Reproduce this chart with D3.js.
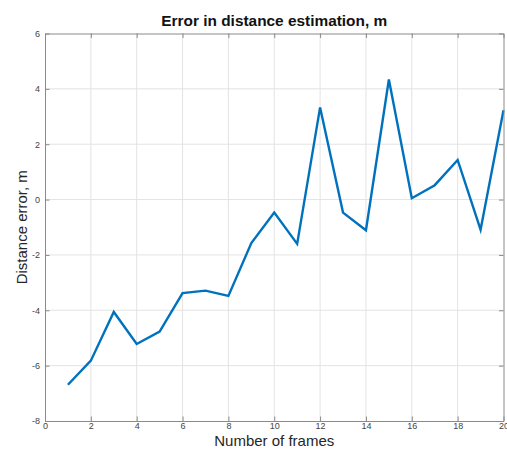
<!DOCTYPE html>
<html>
<head>
<meta charset="utf-8">
<script src="https://cdn.jsdelivr.net/npm/d3@7"></script>
<style>
  html, body { margin: 0; padding: 0; background: #fff; }
  svg { display: block; font-family: "Liberation Sans", Arial, Helvetica, sans-serif; }
</style>
</head>
<body>
<svg id="chart" width="507" height="450"></svg>
<script>
// Frame index and distance error (m) per frame
const frames = [1, 2, 3, 4, 5, 6, 7, 8, 9, 10, 11, 12, 13, 14, 15, 16, 17, 18, 19, 20];
const distanceError = [-6.69, -5.82, -4.06, -5.22, -4.77, -3.38, -3.29, -3.48, -1.57, -0.47,
                       -1.60, 3.33, -0.47, -1.11, 4.34, 0.05, 0.52, 1.43, -1.09, 3.23];
const xTicks = [0, 2, 4, 6, 8, 10, 12, 14, 16, 18, 20];
const yTicks = [-8, -6, -4, -2, 0, 2, 4, 6];

const titleText = "Error in distance estimation, m";
const xLabel = "Number of frames";
const yLabel = "Distance error, m";

const svg = d3.select("#chart");
const plotLeft = 45, plotRight = 503.5, plotTop = 33.5, plotBottom = 421;

const x = d3.scaleLinear().domain([0, 20]).range([plotLeft, plotRight]);
const y = d3.scaleLinear().domain([-8, 6]).range([plotBottom, plotTop]);

const axisColor = "#8a8a8a";
const gridColor = "#e3e3e3";
const tickLen = 4.5;
const plainNumber = d => String(d);   // hyphen-minus in tick labels

// grid
const grid = svg.append("g");
grid.selectAll("line.gx").data(xTicks.slice(1, -1)).join("line")
  .attr("x1", d => x(d)).attr("x2", d => x(d))
  .attr("y1", plotTop).attr("y2", plotBottom)
  .attr("stroke", gridColor).attr("stroke-width", 1);
grid.selectAll("line.gy").data(yTicks.slice(1, -1)).join("line")
  .attr("y1", d => y(d)).attr("y2", d => y(d))
  .attr("x1", plotLeft).attr("x2", plotRight)
  .attr("stroke", gridColor).attr("stroke-width", 1);

// data line
const line = d3.line().x((d, i) => x(frames[i])).y(d => y(d));
svg.append("path")
  .datum(distanceError)
  .attr("d", line)
  .attr("fill", "none")
  .attr("stroke", "#0072BD")
  .attr("stroke-width", 2.4)
  .attr("stroke-linejoin", "miter");

// axes with inward ticks on all four sides
function styleAxis(g) {
  g.select(".domain").attr("stroke", axisColor).attr("stroke-width", 1);
  g.selectAll(".tick line").attr("stroke", axisColor);
  g.selectAll(".tick text").attr("fill", "#444").attr("font-size", 9)
    .attr("font-family", "Liberation Sans, Arial, sans-serif");
}

const xBottom = svg.append("g").attr("transform", `translate(0,${plotBottom})`)
  .call(d3.axisBottom(x).tickValues(xTicks).tickFormat(plainNumber).tickSizeInner(-tickLen).tickSizeOuter(0).tickPadding(2));
styleAxis(xBottom);

const xTop = svg.append("g").attr("transform", `translate(0,${plotTop})`)
  .call(d3.axisTop(x).tickValues(xTicks).tickFormat("").tickSizeInner(-tickLen).tickSizeOuter(0));
styleAxis(xTop);

const yLeft = svg.append("g").attr("transform", `translate(${plotLeft},0)`)
  .call(d3.axisLeft(y).tickValues(yTicks).tickFormat(plainNumber).tickSizeInner(-tickLen).tickSizeOuter(0).tickPadding(5));
styleAxis(yLeft);

const yRight = svg.append("g").attr("transform", `translate(${plotRight},0)`)
  .call(d3.axisRight(y).tickValues(yTicks).tickFormat("").tickSizeInner(-tickLen).tickSizeOuter(0));
styleAxis(yRight);

// title and axis labels
svg.append("text")
  .attr("x", (plotLeft + plotRight) / 2).attr("y", 26)
  .attr("text-anchor", "middle")
  .attr("font-size", 15.4).attr("font-weight", "bold").attr("fill", "#111")
  .text(titleText);

svg.append("text")
  .attr("x", (plotLeft + plotRight) / 2).attr("y", 446)
  .attr("text-anchor", "middle")
  .attr("font-size", 15).attr("fill", "#262626")
  .text(xLabel);

svg.append("text")
  .attr("transform", `translate(27,${(plotTop + plotBottom) / 2}) rotate(-90)`)
  .attr("text-anchor", "middle")
  .attr("font-size", 15).attr("fill", "#262626")
  .text(yLabel);
</script>
</body>
</html>
